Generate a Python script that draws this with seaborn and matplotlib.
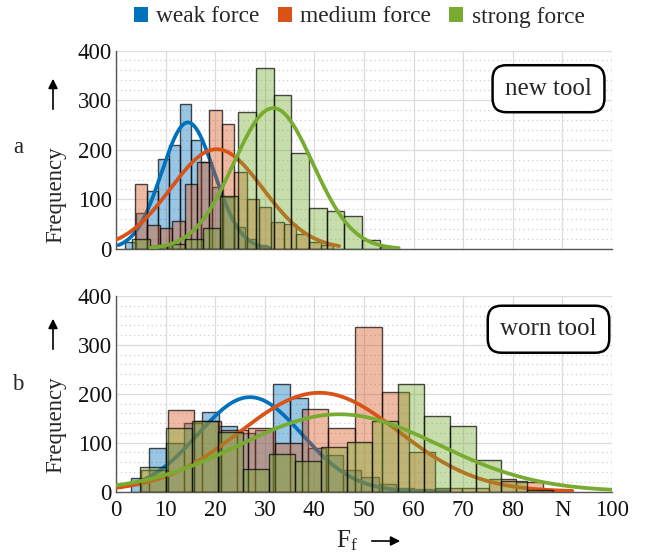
import numpy as np
import pandas as pd
import matplotlib
matplotlib.use("Agg")
import matplotlib.pyplot as plt
import seaborn as sns
from matplotlib.patches import Patch
from matplotlib.ticker import MultipleLocator

sns.set_theme(style="white")
plt.rcParams['font.family'] = ['Liberation Serif', 'DejaVu Serif']
plt.rcParams['mathtext.fontset'] = 'custom'
plt.rcParams['mathtext.rm'] = 'Liberation Serif'
plt.rcParams['mathtext.it'] = 'Liberation Serif:italic'

# ---------------- data ----------------
series = ["weak force", "medium force", "strong force"]
colors = ["#0072BD", "#D95319", "#77AC30"]

# panel a: new tool  (bin start, bin width, counts per bin)
new_bin_start = [1.9, 3.85, 3.2]
new_bin_width = [2.19, 2.5, 3.57]
new_weak = [15, 72, 117, 181, 210, 293, 220, 176, 125, 105, 45, 20, 8]
new_medium = [130, 49, 43, 57, 131, 176, 280, 252, 156, 100, 85, 55, 50, 30, 15, 8]
new_strong = [21, 6, 10, 20, 43, 107, 276, 365, 311, 193, 82, 76, 66, 19, 5]
new_fit_mu = [14.5, 20.3, 31.7]
new_fit_sigma = [5.3, 9.3, 8.0]
new_fit_peak = [255, 201, 284]
new_fit_lo = [0.5, 0.0, 7.0]
new_fit_hi = [31.0, 45.0, 57.0]

# panel b: worn tool
worn_bin_start = [3.0, 5.0, 4.9]
worn_bin_width = [3.57, 5.4, 5.2]
worn_weak = [28, 90, 100, 140, 163, 134, 120, 125, 219, 192, 90, 75, 45, 30, 15, 8, 5, 3]
worn_medium = [45, 167, 145, 125, 130, 100, 169, 130, 336, 204, 81, 8, 8, 25, 20]
worn_strong = [51, 130, 144, 122, 47, 76, 62, 92, 101, 145, 219, 154, 135, 64, 22, 3]
worn_fit_mu = [27.0, 41.0, 45.0]
worn_fit_sigma = [10.5, 16.0, 20.0]
worn_fit_peak = [193, 202, 158]
worn_fit_lo = [3.0, 0.0, 0.0]
worn_fit_hi = [67.0, 92.0, 100.0]

x_ticks = [0, 10, 20, 30, 40, 50, 60, 70, 80, 90, 100]
x_tick_labels = ["0", "10", "20", "30", "40", "50", "60", "70", "80", "N", "100"]
y_ticks = [0, 100, 200, 300, 400]

# ---------------- figure ----------------
W, H = 647, 555
fig = plt.figure(figsize=(W / 100, H / 100), dpi=100)
ax1 = fig.add_axes([116 / W, 1 - 249 / H, 496 / W, 198.5 / H])
ax2 = fig.add_axes([116 / W, 1 - 491.5 / H, 496 / W, 195.5 / H])


def draw_panel(ax, starts, widths, counts_list, mus, sigmas, peaks, los, his):
    z = 1
    for i in range(3):
        counts = list(counts_list[i])
        edges = [starts[i] + widths[i] * k for k in range(len(counts) + 1)]
        centers = [0.5 * (edges[k] + edges[k + 1]) for k in range(len(counts))]
        df = pd.DataFrame({"center": centers, "count": counts})
        sns.histplot(data=df, x="center", weights="count", bins=edges, color=colors[i],
                     alpha=0.4, edgecolor=(0, 0, 0, 0.7), linewidth=1.0,
                     ax=ax, zorder=z)
        xs = np.linspace(los[i], his[i], 300)
        ys = peaks[i] * np.exp(-0.5 * ((xs - mus[i]) / sigmas[i]) ** 2)
        sns.lineplot(x=xs, y=ys, color=colors[i], linewidth=2.7, ax=ax,
                     zorder=z + 1, sort=False)
        z += 2


draw_panel(ax1, new_bin_start, new_bin_width,
           [new_weak, new_medium, new_strong],
           new_fit_mu, new_fit_sigma, new_fit_peak, new_fit_lo, new_fit_hi)
draw_panel(ax2, worn_bin_start, worn_bin_width,
           [worn_weak, worn_medium, worn_strong],
           worn_fit_mu, worn_fit_sigma, worn_fit_peak, worn_fit_lo, worn_fit_hi)

for ax in (ax1, ax2):
    ax.set_xlim(0, 100)
    ax.set_ylim(0, 400)
    ax.set_xticks(x_ticks)
    ax.set_yticks(y_ticks)
    ax.yaxis.set_minor_locator(MultipleLocator(20))
    ax.set_axisbelow(True)
    ax.grid(which="major", color="#dcdcdc", linewidth=0.9, linestyle="-")
    ax.grid(which="minor", axis="y", color="#cfcfcf", linewidth=0.9, linestyle=(0, (1, 2.5)))
    for s in ("top", "right"):
        ax.spines[s].set_visible(False)
    for s in ("left", "bottom"):
        ax.spines[s].set_color("#555555")
        ax.spines[s].set_linewidth(1.0)
    ax.tick_params(axis="both", which="major", direction="in", length=4,
                   color="#555555", labelsize=16.5, labelcolor="#111111", pad=3)
    ax.tick_params(axis="x", which="major", pad=6)
    ax.tick_params(axis="y", which="minor", length=0)
    ax.set_xlabel("")
    ax.set_ylabel("")

ax1.set_xticklabels([])
ax2.set_xticklabels(x_tick_labels)

box = dict(boxstyle="round,pad=0.5,rounding_size=0.55", fc="white", ec="black", lw=1.8)
ax1.text(87.2, 323, "new tool", fontsize=18, ha="center", va="center", bbox=box, zorder=20)
ax2.text(87.2, 332, "worn tool", fontsize=18, ha="center", va="center", bbox=box, zorder=20)

# y labels with arrows
for yc, y0, y1, letter, yl in [(195, 112, 76, "a", 148), (425, 352, 316, "b", 385)]:
    fig.text(56 / W, 1 - yc / H, "Frequency", rotation=90, ha="center", va="center", fontsize=16.5)
    fig.text(18 / W, 1 - yl / H, letter, ha="center", va="center", fontsize=16.5)
    ax1.annotate("", xy=(53, H - y1), xytext=(53, H - y0), xycoords="figure pixels",
                 textcoords="figure pixels",
                 arrowprops=dict(arrowstyle="-|>", color="black", lw=1.2, mutation_scale=14))

# x label with arrow
fig.text(347 / W, 1 - 541 / H, r"F$_{\mathrm{f}}$", ha="center", va="center", fontsize=18)
ax2.annotate("", xy=(403, H - 541), xytext=(369, H - 541), xycoords="figure pixels",
             textcoords="figure pixels",
             arrowprops=dict(arrowstyle="-|>", color="black", lw=1.2, mutation_scale=14))

# legend
handles = [Patch(facecolor=c, edgecolor="none") for c in colors]
fig.legend(handles, series, loc="center", bbox_to_anchor=(359 / W, 1 - 17 / H), ncol=3,
           frameon=False, fontsize=16.8, handlelength=0.6, handleheight=0.6,
           handletextpad=0.35, columnspacing=0.8, borderaxespad=0)

fig.savefig("out.png", dpi=100)
